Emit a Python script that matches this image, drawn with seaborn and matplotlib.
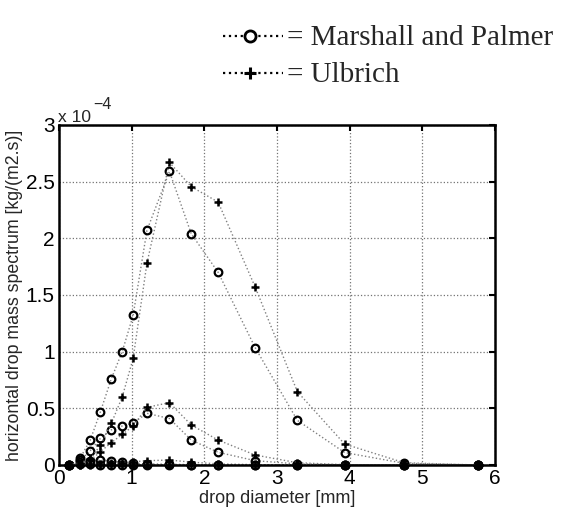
import numpy as np
import pandas as pd
import matplotlib
matplotlib.use("Agg")
import matplotlib.pyplot as plt
from matplotlib.lines import Line2D
import seaborn as sns

# ---- data (values in units of 1e-4 kg/(m2.s)) ----
diameter_mm = [0.14, 0.29, 0.43, 0.57, 0.72, 0.87, 1.02, 1.21, 1.52,
               1.82, 2.19, 2.70, 3.28, 3.93, 4.75, 5.77]

mp_high   = [0.0, 0.06, 0.22, 0.47, 0.76, 1.00, 1.32, 2.07, 2.59,
             2.04, 1.70, 1.035, 0.394, 0.11, 0.015, 0.0]
mp_medium = [0.0, 0.04, 0.126, 0.235, 0.31, 0.344, 0.37, 0.456, 0.41,
             0.22, 0.112, 0.038, 0.01, 0.002, 0.0, 0.0]
mp_low    = [0.0, 0.03, 0.038, 0.044, 0.035, 0.023, 0.015, 0.01, 0.007,
             0.003, 0.001, 0.0, 0.0, 0.0, 0.0, 0.0]
mp_tiny   = [0.0, 0.006, 0.005, 0.004, 0.003, 0.002, 0.001, 0.001, 0.0,
             0.0, 0.0, 0.0, 0.0, 0.0, 0.0, 0.0]

ul_high   = [0.0, 0.02, 0.05, 0.176, 0.367, 0.60, 0.94, 1.78, 2.67,
             2.456, 2.32, 1.57, 0.647, 0.185, 0.02, 0.0]
ul_medium = [0.0, 0.01, 0.04, 0.118, 0.197, 0.27, 0.344, 0.509, 0.55,
             0.353, 0.22, 0.088, 0.02, 0.003, 0.0, 0.0]
ul_low    = [0.0, 0.002, 0.005, 0.01, 0.015, 0.02, 0.028, 0.038, 0.044,
             0.025, 0.01, 0.003, 0.0, 0.0, 0.0, 0.0]
ul_tiny   = [0.0, 0.001, 0.002, 0.002, 0.002, 0.002, 0.002, 0.002, 0.002,
             0.001, 0.0, 0.0, 0.0, 0.0, 0.0, 0.0]

x_ticks = [0, 1, 2, 3, 4, 5, 6]
y_ticks = [0, 0.5, 1, 1.5, 2, 2.5, 3]
y_tick_labels = ["0", "0.5", "1", "1.5", "2", "2.5", "3"]

legend_labels = ["= Marshall and Palmer", "= Ulbrich"]

rows = []
for model, series in [("MP", {"high": mp_high, "medium": mp_medium,
                              "low": mp_low, "tiny": mp_tiny}),
                      ("UL", {"high": ul_high, "medium": ul_medium,
                              "low": ul_low, "tiny": ul_tiny})]:
    for rate, vals in series.items():
        for d, v in zip(diameter_mm, vals):
            rows.append({"model": model, "rate": rate, "diameter": d, "value": v})
df = pd.DataFrame(rows)

# ---- style ----
sns.set_style("white")
plt.rcParams["font.family"] = ["Liberation Sans", "DejaVu Sans"]

fig = plt.figure(figsize=(5.63, 5.15), dpi=100)
ax = fig.add_axes([59 / 563, 1 - 465 / 515, 436 / 563, 340 / 515])

line_kws = dict(color="0.5", linestyle=":", linewidth=1.0, clip_on=False)

sns.lineplot(data=df[df.model == "MP"], x="diameter", y="value", units="rate",
             estimator=None, sort=True, ax=ax, legend=False,
             marker="o", markersize=5.5, markerfacecolor="none",
             markeredgecolor="black", markeredgewidth=1.6, **line_kws)
sns.lineplot(data=df[df.model == "UL"], x="diameter", y="value", units="rate",
             estimator=None, sort=True, ax=ax, legend=False,
             marker="+", markersize=6, markeredgecolor="black",
             markeredgewidth=1.8, **line_kws)

ax.set_xlim(0, 6)
ax.set_ylim(0, 3)
ax.set_xticks(x_ticks)
ax.set_xticklabels([str(t) for t in x_ticks])
ax.set_yticks(y_ticks)
ax.set_yticklabels(y_tick_labels)
ax.grid(True, linestyle=":", color="0.45", linewidth=0.9)
ax.set_axisbelow(True)

for s in ax.spines.values():
    s.set_linewidth(1.8)
    s.set_color("black")
    s.set_visible(True)

ax.tick_params(axis="both", which="major", direction="in", length=4,
               width=1.5, top=True, right=True, labelsize=15, pad=3,
               colors="black")

ax.set_xlabel("drop diameter [mm]", fontsize=13, labelpad=1)
ax.set_ylabel("horizontal drop mass spectrum [kg/(m2.s)]", fontsize=12.8,
              labelpad=2)

# MATLAB-style exponent label
fig.text(58 / 563, 1 - 122 / 515, "x 10", fontsize=12.5, ha="left", va="baseline")
fig.text(93 / 563, 1 - 109 / 515, "\u22124", fontsize=11.5, ha="left", va="baseline")

# ---- legend drawn above the axes ----
leg_rows = [(36, 45, "o", legend_labels[0]), (73, 82, "+", legend_labels[1])]
for yc, yb, mk, lab in leg_rows:
    yf = 1 - yc / 515
    fig.add_artist(Line2D([223 / 563, 283 / 563], [yf, yf],
                          transform=fig.transFigure, color="black",
                          linestyle=":", linewidth=1.6))
    if mk == "o":
        fig.add_artist(Line2D([250 / 563], [yf], transform=fig.transFigure,
                              marker="o", markersize=8, markerfacecolor="white",
                              markeredgecolor="black", markeredgewidth=2,
                              linestyle="none"))
    else:
        fig.add_artist(Line2D([250 / 563], [yf], transform=fig.transFigure,
                              marker="+", markersize=9,
                              markeredgecolor="black", markeredgewidth=2.2,
                              linestyle="none"))
    fig.text(287 / 563, 1 - yb / 515, lab, family=["Liberation Serif"],
             fontsize=21, ha="left", va="baseline")

fig.savefig("out.png", dpi=100)
